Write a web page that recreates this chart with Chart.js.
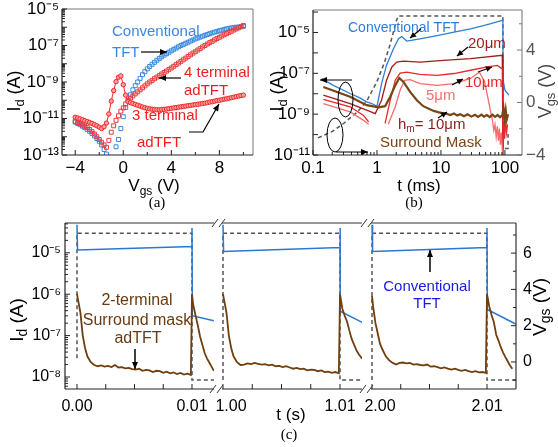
<!DOCTYPE html>
<html><head><meta charset="utf-8">
<script src="https://cdn.jsdelivr.net/npm/chart.js@4.4.1/dist/chart.umd.min.js"></script>
<style>
html,body{margin:0;padding:0;background:#fff;}
#wrap{position:relative;width:558px;height:447px;overflow:hidden;background:#fff;}
canvas{position:absolute;}
.cap{position:absolute;font-family:"Liberation Serif","Times New Roman",serif;font-size:15px;color:#000;transform:translate(-50%,-50%);line-height:1;}
</style></head>
<body><div id="wrap">
<canvas id="ca" width="270" height="200" style="left:0;top:0"></canvas>
<canvas id="cb" width="296" height="200" style="left:262px;top:0"></canvas>
<canvas id="cc1" width="218" height="232" style="left:0;top:215px"></canvas>
<canvas id="cc2" width="162" height="232" style="left:206px;top:215px"></canvas>
<canvas id="cc3" width="203" height="232" style="left:355px;top:215px"></canvas>
<div class="cap" style="left:157px;top:202px">(a)</div>
<div class="cap" style="left:414px;top:202px">(b)</div>
<div class="cap" style="left:289px;top:434px">(c)</div>
</div>
<script>
// ---------------- DATA (currents stored as log10(Id / A)) ----------------
// Panel (a): Id vs Vgs
const aVgs = [-4.0,-3.8,-3.6,-3.4,-3.2,-3.0,-2.8,-2.6,-2.4,-2.2,-2.0,-1.8,-1.6,-1.4,-1.2,-1.0,-0.8,-0.6,-0.4,-0.2,0.0,0.2,0.4,0.6,0.8,1.0,1.2,1.4,1.6,1.8,2.0,2.2,2.4,2.6,2.8,3.0,3.2,3.4,3.6,3.8,4.0,4.2,4.4,4.6,4.8,5.0,5.2,5.4,5.6,5.8,6.0,6.2,6.4,6.6,6.8,7.0,7.2,7.4,7.6,7.8,8.0,8.2,8.4,8.6,8.8,9.0,9.2,9.4,9.6,9.8,10.0];
const aConvLog = [-11.2,-11.27,-11.34,-11.42,-11.5,-11.6,-11.7,-11.82,-11.95,-12.1,
  -12.25,-12.45,-12.7,-12.95,-13.2,-13.6,-13.3,-12.55,-12.15,-11.55,
  -10.9,-10.4,-10.0,-9.7,-9.43,-9.2,-9.0,-8.8,-8.6,-8.43,
  -8.28,-8.15,-8.03,-7.92,-7.81,-7.71,-7.62,-7.53,-7.45,-7.37,
  -7.29,-7.21,-7.14,-7.07,-7.0,-6.94,-6.88,-6.82,-6.76,-6.7,
  -6.64,-6.59,-6.54,-6.49,-6.44,-6.4,-6.35,-6.31,-6.27,-6.23,
  -6.19,-6.16,-6.12,-6.09,-6.06,-6.04,-6.02,-6.0,-5.99,-5.97,-5.95];
const a4tLog = [-11.15,-11.22,-11.29,-11.36,-11.43,-11.5,-11.6,-11.72,-11.85,-12.0,
  -12.15,-12.3,-12.45,-12.58,-12.2,-11.75,-11.4,-11.1,-10.85,-10.6,
  -10.42,-10.2,-10.0,-9.88,-9.76,-9.65,-9.54,-9.43,-9.32,-9.21,
  -9.1,-9.0,-8.91,-8.82,-8.73,-8.65,-8.56,-8.48,-8.4,-8.31,
  -8.23,-8.14,-8.05,-7.96,-7.87,-7.78,-7.69,-7.6,-7.51,-7.42,
  -7.34,-7.25,-7.17,-7.08,-7.0,-6.92,-6.84,-6.77,-6.69,-6.62,
  -6.55,-6.48,-6.41,-6.35,-6.28,-6.22,-6.15,-6.09,-6.03,-5.97,-5.9];
const a3tLog = [-10.93,-10.97,-11.02,-11.07,-11.12,-11.17,-11.22,-11.27,-11.33,-11.4,
  -11.47,-11.55,-11.45,-11.25,-10.75,-10.05,-9.47,-8.98,-8.74,-8.67,
  -9.15,-9.72,-10.08,-10.13,-10.18,-10.23,-10.27,-10.32,-10.37,-10.41,
  -10.44,-10.47,-10.49,-10.51,-10.52,-10.52,-10.51,-10.5,-10.48,-10.46,
  -10.44,-10.42,-10.4,-10.38,-10.36,-10.34,-10.32,-10.3,-10.28,-10.26,
  -10.24,-10.22,-10.2,-10.18,-10.16,-10.13,-10.1,-10.08,-10.05,-10.02,
  -10.0,-9.97,-9.94,-9.92,-9.89,-9.86,-9.83,-9.8,-9.77,-9.74,-9.72];
const aXTickVals = [-4, 0, 4, 8];
const aXTickLabels = ['\u22124', '0', '4', '8'];
const aYTickVals = [1e-13, 1e-11, 1e-9, 1e-7, 1e-5];
const aYTickLabels = ['10\u207B\u00B9\u00B3', '10\u207B\u00B9\u00B9', '10\u207B\u2079', '10\u207B\u2077', '10\u207B\u2075'];

// Panel (b): transient Id (t in ms)
const bConvT = [0.137,0.208,0.38,0.54,0.69,0.83,1.0,1.18,1.41,1.81,2.17,2.44,2.92,4.7,8.7,16,29,53,91,93,93.5,100,116];
const bConvLog = [-7.26,-7.59,-7.99,-8.2,-8.4,-8.48,-8.62,-7.5,-6.6,-5.8,-5.31,-5.2,-5.42,-5.31,-5.15,-4.98,-4.82,-4.61,-4.41,-4.4,-7.3,-7.83,-8.07];
const b20T = [0.145,0.38,0.69,0.94,1.18,1.41,1.71,2.04,2.6,4.7,11,29,91,93,93.3];
const b20Log = [-8.07,-8.48,-8.8,-8.97,-8.32,-7.34,-6.69,-6.45,-6.4,-6.45,-6.37,-6.28,-6.12,-6.12,-11.3];
const b10T = [0.145,0.38,0.61,0.74,1.0,1.34,1.61,1.93,2.3,2.92,4.7,8.7,16,29,53,76,90,93,93.3,96,99,102,106,110];
const b10Log = [-8.28,-8.64,-9.05,-9.37,null,-9.45,-8.32,-7.34,-6.99,-6.94,-7.05,-7.1,-7.01,-6.85,-6.69,-6.61,-6.77,-6.8,-11.3,-9.4,-10.2,-9.3,-9.9,-9.5];
const b5T = [0.145,0.38,0.61,0.74,1.0,1.5,1.93,2.3,2.7,3.3,4.7,8.7,16,29,40,48,55,60,64,67,70,73,76,79,82,85,88,91,93];
const b5Log = [-8.48,-8.89,-9.29,-9.49,null,-9.49,-8.64,-7.83,-7.34,-7.31,-7.5,-7.59,-7.5,-7.25,-6.95,-7.4,-8.3,-8.9,-9.3,-9.8,-9.5,-10.1,-9.6,-10.3,-9.7,-10.5,-9.9,-10.7,-11.3];
const bSMT = [0.145,0.38,0.69,1.06,1.34,1.61,1.93,2.23,2.6,3.3,4.2,5.3,7.7,9,10.5,12.5,14,16,18,20,23,26,30,34,38,43,47,52,58,64,70,77,84,91,95,99,103,107,112];
const bSMLog = [-7.67,-8.15,-8.56,-8.67,-8.61,-8.15,-7.59,-7.23,-7.42,-7.91,-8.32,-8.61,-8.84,-8.9,-8.95,-8.99,-9.04,-8.97,-9.07,-9.0,-9.1,-9.01,-9.12,-9.03,-9.13,-9.02,-9.12,-9.04,-9.14,-9.03,-9.13,-9.04,-9.15,-9.05,-8.7,-9.2,-8.8,-9.25,-9.0];
const bVgsT = [0.12,0.2,0.3,0.5,0.7,1.0,1.3,1.6,2.0,2.15,93,93,112,112];
const bVgs = [-2.7,-2.2,-1.6,-0.7,0.15,1.6,3.0,4.4,6.2,6.6,6.6,-3.5,-3.5,-2.4];
const bXTickVals = [0.1, 1, 10, 100];
const bXTickLabels = ['0.1', '1', '10', '100'];
const bYTickVals = [1e-11, 1e-9, 1e-7, 1e-5];
const bYTickLabels = ['10\u207B\u00B9\u00B9', '10\u207B\u2079', '10\u207B\u2077', '10\u207B\u2075'];
const bY2TickVals = [-4, 0, 4];
const bY2TickLabels = ['\u22124', '0', '4'];

// Panel (c): pulsed operation (t in s), three axis segments
const cVgsT1 = [0,0,0.01,0.01,0.0125];      const cVgs1 = [0.2,7.1,7.1,-1.0,-1.0];
const cVgsT2 = [1.0,1.0,1.01,1.01,1.0125];  const cVgs2 = [-1.0,7.1,7.1,-1.0,-1.0];
const cVgsT3 = [2.0,2.0,2.01,2.01,2.013];   const cVgs3 = [-1.0,7.1,7.1,-1.0,-1.0];
const cConvT1 = [0,0.00005,0.005,0.01,0.01,0.01003,0.0119];   const cConv1 = [-4.32,-4.93,-4.89,-4.85,-4.4,-6.52,-6.64];
const cConvT2 = [1.0,1.00005,1.005,1.01,1.01,1.01003,1.0119]; const cConv2 = [-4.32,-4.97,-4.92,-4.87,-4.4,-6.41,-6.68];
const cConvT3 = [2.0,2.00005,2.005,2.01,2.01,2.01003,2.0125]; const cConv3 = [-4.32,-4.97,-4.92,-4.87,-4.4,-6.37,-6.72];
const cSMT1 = [0,0.0001,0.0002,0.0003,0.0005,0.0007,0.0009,0.0012,0.0015,0.0018,
  0.0021,0.0024,0.0027,0.003,0.0033,0.0036,0.0039,0.0042,0.0045,0.0048,
  0.0051,0.0054,0.0057,0.006,0.0063,0.0066,0.0069,0.0072,0.0075,0.0078,
  0.0081,0.0084,0.0087,0.009,0.0093,0.0096,0.0099,
  0.01,0.0101,0.0103,0.0105,0.0107,0.0109,0.0111,0.0113,0.0115,0.0117,0.0119];
const cSM1 = [-6.0,-6.15,-6.3,-6.45,-7.0,-7.3,-7.5,-7.64,-7.71,-7.74,
  -7.72,-7.75,-7.73,-7.76,-7.71,-7.77,-7.76,-7.79,-7.78,-7.81,
  -7.82,-7.8,-7.85,-7.83,-7.84,-7.88,-7.85,-7.86,-7.9,-7.87,
  -7.91,-7.89,-7.93,-7.9,-7.94,-7.92,-7.95,
  -6.0,-6.25,-6.5,-6.75,-7.02,-7.22,-7.42,-7.55,-7.65,-7.75,-7.85];
const cSMT2 = [1.0,1.0001,1.0002,1.0003,1.0005,1.0007,1.0009,1.0012,1.0015,1.0018,
  1.0021,1.0024,1.0027,1.003,1.0033,1.0036,1.0039,1.0042,1.0045,1.0048,
  1.0051,1.0054,1.0057,1.006,1.0063,1.0066,1.0069,1.0072,1.0075,1.0078,
  1.0081,1.0084,1.0087,1.009,1.0093,1.0096,1.0099,
  1.01,1.0102,1.0104,1.0106,1.0108,1.011,1.0112,1.0114,1.0116,1.0119];
const cSM2 = [-6.0,-6.15,-6.3,-6.45,-7.0,-7.3,-7.5,-7.64,-7.71,-7.7,
  -7.67,-7.69,-7.66,-7.68,-7.7,-7.69,-7.72,-7.7,-7.74,-7.73,
  -7.76,-7.74,-7.77,-7.8,-7.78,-7.81,-7.8,-7.84,-7.82,-7.83,
  -7.86,-7.84,-7.88,-7.87,-7.9,-7.88,-7.91,
  -6.0,-6.35,-6.52,-6.66,-6.88,-7.08,-7.22,-7.35,-7.45,-7.56];
const cSMT3 = [2.0,2.0001,2.0002,2.0003,2.0005,2.0007,2.0009,2.0012,2.0015,2.0018,
  2.0021,2.0024,2.0027,2.003,2.0033,2.0036,2.0039,2.0042,2.0045,2.0048,
  2.0051,2.0054,2.0057,2.006,2.0063,2.0066,2.0069,2.0072,2.0075,2.0078,
  2.0081,2.0084,2.0087,2.009,2.0093,2.0096,2.0099,
  2.01,2.0102,2.0104,2.0106,2.0108,2.011,2.0112,2.0114,2.0116,2.0118,2.012,2.0122];
const cSM3 = [-6.04,-6.3,-6.5,-6.7,-6.95,-7.2,-7.33,-7.5,-7.6,-7.66,
  -7.7,-7.66,-7.65,-7.67,-7.66,-7.7,-7.69,-7.71,-7.72,-7.7,
  -7.75,-7.74,-7.76,-7.79,-7.77,-7.8,-7.82,-7.8,-7.83,-7.85,
  -7.83,-7.86,-7.88,-7.86,-7.89,-7.88,-7.9,
  -6.0,-6.3,-6.5,-6.68,-6.98,-7.12,-7.28,-7.41,-7.52,-7.62,-7.72,-7.8];
const cXTickVals1 = [0, 0.01];   const cXTickLabels1 = ['0.00', '0.01'];
const cXTickVals2 = [1.0, 1.01]; const cXTickLabels2 = ['1.00', '1.01'];
const cXTickVals3 = [2.0, 2.01]; const cXTickLabels3 = ['2.00', '2.01'];
const cYTickVals = [1e-8, 1e-7, 1e-6, 1e-5];
const cYTickLabels = ['10\u207B\u2078', '10\u207B\u2077', '10\u207B\u2076', '10\u207B\u2075'];
const cY2TickVals = [0, 2, 4, 6];
const cY2TickLabels = ['0', '2', '4', '6'];

// ---------------- helpers ----------------
const FONT = '"Liberation Sans", Arial, Helvetica, sans-serif';
Chart.defaults.font.family = FONT;
Chart.defaults.color = '#000';

const P = (xs, ls) => xs.map((x, i) => ({x: x, y: ls[i] === null ? null : Math.pow(10, ls[i])}));
const PL = (xs, ys) => xs.map((x, i) => ({x: x, y: ys[i]}));

function lbl(vals, labels, isLog, firstPad) {
  return function (v) {
    for (let i = 0; i < vals.length; i++) {
      const d = isLog ? Math.abs(Math.log10(v) - Math.log10(vals[i])) : Math.abs(v - vals[i]);
      if (d < 1e-6) return (firstPad && i === 0 ? '\u2002\u2002' : '') + labels[i];
    }
    return '';
  };
}
function logTicks(e0, e1, lo, hi, minor) {
  return () => {
    const t = [];
    for (let e = e0; e <= e1; e++) for (let m = 1; m <= 9; m++) {
      if (m > 1 && !minor) continue;
      const v = m * Math.pow(10, e);
      if (v < lo * 0.999 || v > hi * 1.001) continue;
      t.push({value: v, mj: m === 1});
    }
    return t;
  };
}
function linTicks(start, step, n, majorVals) {
  return () => {
    const t = [];
    for (let i = 0; i < n; i++) {
      const v = +(start + i * step).toFixed(6);
      t.push({value: v, mj: majorVals.some(q => Math.abs(q - v) < 1e-9)});
    }
    return t;
  };
}
function axis(o) {
  const shown = o.display !== false;
  return {
    type: o.type, position: o.pos, min: o.min, max: o.max, display: shown,
    grid: {display: false, drawTicks: false}, border: {display: false}, title: {display: false},
    afterBuildTicks: s => { s.ticks = o.ticks(); },
    afterFit: s => {
      if (shown && o.size != null) { if (s.isHorizontal()) s.height = o.size; else s.width = o.size; }
      s.paddingLeft = 0; s.paddingRight = 0; s.paddingTop = 0; s.paddingBottom = 0;
    },
    ticks: {autoSkip: false, maxRotation: 0, minRotation: 0, padding: o.pad || 3, color: o.color || '#000',
      font: {size: o.fs || 17}, callback: o.label}
  };
}
function drawItem(ctx, it) {
  ctx.save();
  ctx.strokeStyle = it.c || '#000'; ctx.fillStyle = it.c || '#000';
  ctx.lineWidth = it.w || 1.2; ctx.setLineDash([]);
  if (it.t === 'text') {
    ctx.translate(it.x, it.y);
    if (it.rot) ctx.rotate(it.rot * Math.PI / 180);
    ctx.textBaseline = 'alphabetic'; ctx.textAlign = 'left';
    let W = 0;
    const ws = it.parts.map(p => { ctx.font = p[1] + 'px ' + FONT; const w = ctx.measureText(p[0]).width; W += w; return w; });
    let x = it.align === 'center' ? -W / 2 : 0;
    it.parts.forEach((p, i) => { ctx.font = p[1] + 'px ' + FONT; ctx.fillText(p[0], x, p[2] || 0); x += ws[i]; });
  } else if (it.t === 'arrow' || it.t === 'line') {
    ctx.beginPath();
    it.pts.forEach((q, i) => i ? ctx.lineTo(q[0], q[1]) : ctx.moveTo(q[0], q[1]));
    ctx.stroke();
    if (it.t === 'arrow') {
      const n = it.pts.length, a = it.pts[n - 2], b = it.pts[n - 1];
      const ang = Math.atan2(b[1] - a[1], b[0] - a[0]), L = it.hl || 7, H = it.hw || 3;
      const cx = b[0] - L * Math.cos(ang), cy = b[1] - L * Math.sin(ang);
      ctx.beginPath(); ctx.moveTo(b[0], b[1]);
      ctx.lineTo(cx + H * Math.sin(ang), cy - H * Math.cos(ang));
      ctx.lineTo(cx - H * Math.sin(ang), cy + H * Math.cos(ang));
      ctx.closePath(); ctx.fill();
    }
  } else if (it.t === 'ellipse') {
    ctx.beginPath(); ctx.ellipse(it.x, it.y, it.rx, it.ry, 0, 0, Math.PI * 2); ctx.stroke();
  }
  ctx.restore();
}
function makeDeco(cfg) {
  return {
    id: 'deco',
    afterDatasetsDraw(chart) {
      const ctx = chart.ctx, a = chart.chartArea;
      ctx.save();
      (cfg.frame || []).forEach(f => {
        ctx.strokeStyle = f.c; ctx.lineWidth = f.w || 1.2; ctx.setLineDash([]);
        ctx.beginPath();
        if (f.s === 'top') { ctx.moveTo(a.left, a.top); ctx.lineTo(a.right, a.top); }
        if (f.s === 'bottom') { ctx.moveTo(a.left, a.bottom); ctx.lineTo(a.right, a.bottom); }
        if (f.s === 'left') { ctx.moveTo(a.left, a.top); ctx.lineTo(a.left, a.bottom); }
        if (f.s === 'right') { ctx.moveTo(a.right, a.top); ctx.lineTo(a.right, a.bottom); }
        ctx.stroke();
      });
      (cfg.ticks || []).forEach(tc => {
        const s = chart.scales[tc.id];
        ctx.strokeStyle = tc.c || '#222'; ctx.lineWidth = 1;
        s.ticks.forEach(t => {
          const L = t.mj ? tc.major : tc.minor;
          const p = s.getPixelForValue(t.value);
          ctx.beginPath();
          if (tc.side === 'bottom') { ctx.moveTo(p, a.bottom); ctx.lineTo(p, a.bottom - L); }
          else if (tc.side === 'left') { ctx.moveTo(a.left, p); ctx.lineTo(a.left + L, p); }
          else { ctx.moveTo(a.right, p); ctx.lineTo(a.right - L, p); }
          ctx.stroke();
        });
      });
      ctx.translate(-cfg.ox, -cfg.oy);
      (cfg.items || []).forEach(it => drawItem(ctx, it));
      ctx.restore();
    }
  };
}
const baseOpts = (padding, scales) => ({
  responsive: false, animation: false, events: [], devicePixelRatio: 1,
  layout: {padding: padding},
  plugins: {legend: {display: false}, tooltip: {enabled: false}},
  scales: scales
});
const ln = (data, color, w, extra) => Object.assign({data: data, borderColor: color, backgroundColor: color,
  borderWidth: w, pointRadius: 0, tension: 0, fill: false, spanGaps: false, yAxisID: 'y'}, extra || {});
const dash = (data) => ln(data, '#555', 1.5, {borderDash: [4, 3], yAxisID: 'y2'});

const IdTitle = (x, y, fs) => ({t: 'text', x: x, y: y, rot: -90, align: 'center', parts: [['I', fs], ['d', fs - 5, 4], [' (A)', fs]]});
const VgsTitleV = (x, y, fs, c) => ({t: 'text', x: x, y: y, rot: -90, align: 'center', c: c, parts: [['V', fs], ['gs', fs - 5, 4], [' (V)', fs]]});

// ---------------- panel (a) ----------------
new Chart(document.getElementById('ca'), {
  type: 'line',
  data: {datasets: [
    ln(P(aVgs, a3tLog), '#f02828', 1, {pointStyle: 'circle', pointRadius: 2.2, pointBorderWidth: 1,
      pointBorderColor: '#f02828', pointBackgroundColor: '#ffa0a0'}),
    ln(P(aVgs, a4tLog), '#f0393b', 1, {showLine: false, pointStyle: 'rect', pointRadius: 2.8, pointBorderWidth: 1,
      pointBorderColor: '#f0393b', pointBackgroundColor: 'rgba(255,255,255,0)'}),
    ln(P(aVgs, aConvLog), '#3a8ae0', 1, {showLine: false, pointStyle: 'rect', pointRadius: 2.8, pointBorderWidth: 1,
      pointBorderColor: '#3a8ae0', pointBackgroundColor: 'rgba(255,255,255,0)'})
  ]},
  options: baseOpts({left: 0, top: 9, right: 17, bottom: 0}, {
    x: axis({type: 'linear', pos: 'bottom', min: -5.1, max: 10.8, size: 45, pad: 3, fs: 17,
      ticks: linTicks(-4, 2, 8, aXTickVals), label: lbl(aXTickVals, aXTickLabels, false)}),
    y: axis({type: 'logarithmic', pos: 'left', min: 1e-13, max: 1e-5, size: 62, pad: 3, fs: 17,
      ticks: logTicks(-13, -5, 1e-13, 1e-5, true), label: lbl(aYTickVals, aYTickLabels, true)})
  }),
  plugins: [makeDeco({ox: 0, oy: 0,
    frame: [{s: 'top', c: '#777', w: 1}, {s: 'right', c: '#777', w: 1}, {s: 'left', c: '#222'}, {s: 'bottom', c: '#222'}],
    ticks: [{id: 'x', side: 'bottom', major: 5, minor: 3}, {id: 'y', side: 'left', major: 5, minor: 3}],
    items: [
      {t: 'text', x: 112, y: 36, c: '#3a86e6', parts: [['Conventional', 15]]},
      {t: 'text', x: 112, y: 57, c: '#3a86e6', parts: [['TFT', 15]]},
      {t: 'arrow', pts: [[141, 52], [167, 52]]},
      {t: 'text', x: 184, y: 77, c: '#f21c1c', parts: [['4 terminal', 15]]},
      {t: 'text', x: 184, y: 95, c: '#f21c1c', parts: [['adTFT', 15]]},
      {t: 'arrow', pts: [[181, 78], [159, 78]]},
      {t: 'text', x: 132, y: 120, c: '#f21c1c', parts: [['3 terminal', 15]]},
      {t: 'text', x: 137, y: 147, c: '#f21c1c', parts: [['adTFT', 15]]},
      {t: 'arrow', pts: [[189, 132], [203, 132], [219, 104]]},
      IdTitle(20, 91, 18),
      {t: 'text', x: 154, y: 191, align: 'center', parts: [['V', 17], ['gs', 12, 4], [' (V)', 17]]}
    ]})]
});

// ---------------- panel (b) ----------------
new Chart(document.getElementById('cb'), {
  type: 'line',
  data: {datasets: [
    ln(P(bSMT, bSMLog), '#7a4514', 2.2),
    ln(P(b5T, b5Log), '#f86a6a', 1.3),
    ln(P(b10T, b10Log), '#e8282b', 1.3),
    ln(P(b20T, b20Log), '#a51b1b', 1.3),
    ln(P(bConvT, bConvLog), '#2f7ed8', 1.3),
    dash(PL(bVgsT, bVgs))
  ]},
  options: baseOpts({left: 0, top: 10, right: 0, bottom: 0}, {
    x: axis({type: 'logarithmic', pos: 'bottom', min: 0.1, max: 185, size: 45, pad: 3, fs: 17,
      ticks: logTicks(-1, 2, 0.1, 185, true), label: lbl(bXTickVals, bXTickLabels, true)}),
    y: axis({type: 'logarithmic', pos: 'left', min: 1e-11, max: 1.26e-4, size: 51, pad: 3, fs: 17,
      ticks: logTicks(-11, -4, 1e-11, 1.26e-4, false), label: lbl(bYTickVals, bYTickLabels, true)}),
    y2: axis({type: 'linear', pos: 'right', min: -4, max: 7.05, size: 36, pad: 4, fs: 17, color: '#555',
      ticks: linTicks(-4, 2, 6, bY2TickVals), label: lbl(bY2TickVals, bY2TickLabels, false)})
  }),
  plugins: [makeDeco({ox: 262, oy: 0,
    frame: [{s: 'top', c: '#777', w: 1}, {s: 'right', c: '#888', w: 1.2}, {s: 'left', c: '#222'}, {s: 'bottom', c: '#222'}],
    ticks: [{id: 'x', side: 'bottom', major: 5, minor: 3}, {id: 'y', side: 'left', major: 5, minor: 5},
      {id: 'y2', side: 'right', major: 5, minor: 3, c: '#777'}],
    items: [
      {t: 'text', x: 348, y: 32, c: '#2e7be0', parts: [['Conventional TFT', 14]]},
      {t: 'arrow', pts: [[421, 29], [410, 38]], hl: 6},
      {t: 'text', x: 468, y: 48, c: '#a51b1b', parts: [['20\u03BCm', 15]]},
      {t: 'arrow', pts: [[468, 47], [457, 56]], hl: 6},
      {t: 'text', x: 465, y: 87, c: '#e8282b', parts: [['10\u03BCm', 15]]},
      {t: 'arrow', pts: [[478, 72], [492, 67]], hl: 6},
      {t: 'arrow', pts: [[452, 85], [463, 79]], hl: 6},
      {t: 'text', x: 426, y: 100, c: '#f77070', parts: [['5\u03BCm', 15]]},
      {t: 'text', x: 398, y: 129, c: '#8e1c1c', parts: [['h', 15], ['m', 10, 3], ['= 10\u03BCm', 15]]},
      {t: 'arrow', pts: [[438, 118], [447, 112]], hl: 6},
      {t: 'text', x: 380, y: 147, c: '#7a4514', parts: [['Surround Mask', 15]]},
      {t: 'ellipse', x: 345.5, y: 99.5, rx: 7.5, ry: 17.5, w: 1},
      {t: 'arrow', pts: [[352, 80], [320, 80]], w: 1},
      {t: 'ellipse', x: 335, y: 135, rx: 8, ry: 17, w: 1},
      {t: 'arrow', pts: [[336, 152], [368, 152]], w: 1},
      IdTitle(283, 91, 18),
      {t: 'text', x: 419, y: 191, align: 'center', parts: [['t (ms)', 17]]},
      VgsTitleV(551, 91, 18, '#444')
    ]})]
});

// ---------------- panel (c) : three segments ----------------
const cY = (display) => axis({type: 'logarithmic', pos: 'left', min: 5.13e-9, max: 5.25e-5, size: 65, pad: 4, fs: 16, display: display,
  ticks: logTicks(-9, -5, 5.13e-9, 5.25e-5, true), label: lbl(cYTickVals, cYTickLabels, true)});
const cY2 = (display) => axis({type: 'linear', pos: 'right', min: -1.49, max: 7.66, size: 42, pad: 7, fs: 16, display: display,
  ticks: linTicks(-1, 1, 9, cY2TickVals), label: lbl(cY2TickVals, cY2TickLabels, false)});
const cX = (min, max, t0, vals, labels, firstPad) => axis({type: 'linear', pos: 'bottom', min: min, max: max, size: 58, pad: 8, fs: 16,
  ticks: linTicks(t0, 0.0025, 5, vals), label: lbl(vals, labels, false, firstPad)});

new Chart(document.getElementById('cc1'), {
  type: 'line',
  data: {datasets: [
    ln(P(cSMT1, cSM1), '#6f3f10', 1.8),
    ln(P(cConvT1, cConv1), '#2a78d0', 1.5),
    dash(PL(cVgsT1, cVgs1))
  ]},
  options: baseOpts({left: 0, top: 8, right: 4, bottom: 0}, {
    x: cX(-0.001043, 0.011913, 0, cXTickVals1, cXTickLabels1, false), y: cY(true), y2: cY2(false)
  }),
  plugins: [makeDeco({ox: 0, oy: 215,
    frame: [{s: 'top', c: '#333'}, {s: 'bottom', c: '#222'}, {s: 'left', c: '#222'}],
    ticks: [{id: 'x', side: 'bottom', major: 5, minor: 5}, {id: 'y', side: 'left', major: 5, minor: 3}],
    items: [
      {t: 'text', x: 137, y: 305, align: 'center', c: '#6b3a10', parts: [['2-terminal', 16]]},
      {t: 'text', x: 137, y: 325, align: 'center', c: '#6b3a10', parts: [['Surround mask', 16]]},
      {t: 'text', x: 138, y: 343, align: 'center', c: '#6b3a10', parts: [['adTFT', 16]]},
      {t: 'arrow', pts: [[135, 349], [135, 369]], w: 1.5},
      IdTitle(23, 320, 19)
    ]})]
});
new Chart(document.getElementById('cc2'), {
  type: 'line',
  data: {datasets: [
    ln(P(cSMT2, cSM2), '#6f3f10', 1.8),
    ln(P(cConvT2, cConv2), '#2a78d0', 1.5),
    dash(PL(cVgsT2, cVgs2))
  ]},
  options: baseOpts({left: 16, top: 8, right: 6, bottom: 0}, {
    x: cX(0.999915, 1.01188, 1.0, cXTickVals2, cXTickLabels2, true), y: cY(false), y2: cY2(false)
  }),
  plugins: [makeDeco({ox: 206, oy: 215,
    frame: [{s: 'top', c: '#333'}, {s: 'bottom', c: '#222'}],
    ticks: [{id: 'x', side: 'bottom', major: 5, minor: 5}],
    items: [
      {t: 'line', pts: [[212, 227], [218, 219]], w: 1, c: '#333'},
      {t: 'line', pts: [[219, 227], [225, 219]], w: 1, c: '#333'},
      {t: 'line', pts: [[210, 393], [216, 385]], w: 1, c: '#333'},
      {t: 'line', pts: [[217, 393], [223, 385]], w: 1, c: '#333'},
      {t: 'text', x: 291, y: 420, align: 'center', parts: [['t (s)', 17]]}
    ]})]
});
new Chart(document.getElementById('cc3'), {
  type: 'line',
  data: {datasets: [
    ln(P(cSMT3, cSM3), '#6f3f10', 1.8),
    ln(P(cConvT3, cConv3), '#2a78d0', 1.5),
    dash(PL(cVgsT3, cVgs3))
  ]},
  options: baseOpts({left: 16, top: 8, right: 0, bottom: 0}, {
    x: cX(1.999913, 2.012522, 2.0, cXTickVals3, cXTickLabels3, true), y: cY(false), y2: cY2(true)
  }),
  plugins: [makeDeco({ox: 355, oy: 215,
    frame: [{s: 'top', c: '#333'}, {s: 'bottom', c: '#222'}, {s: 'right', c: '#333'}],
    ticks: [{id: 'x', side: 'bottom', major: 5, minor: 5}, {id: 'y2', side: 'right', major: 5, minor: 3}],
    items: [
      {t: 'line', pts: [[361, 227], [367, 219]], w: 1, c: '#333'},
      {t: 'line', pts: [[368, 227], [374, 219]], w: 1, c: '#333'},
      {t: 'line', pts: [[360, 393], [366, 385]], w: 1, c: '#333'},
      {t: 'line', pts: [[367, 393], [373, 385]], w: 1, c: '#333'},
      {t: 'text', x: 427, y: 291, align: 'center', c: '#1a1ae8', parts: [['Conventional', 15]]},
      {t: 'text', x: 427, y: 308, align: 'center', c: '#1a1ae8', parts: [['TFT', 15]]},
      {t: 'arrow', pts: [[430, 272], [430, 250]], w: 1.5},
      VgsTitleV(546, 307, 19, '#000')
    ]})]
});
</script>
</body></html>
